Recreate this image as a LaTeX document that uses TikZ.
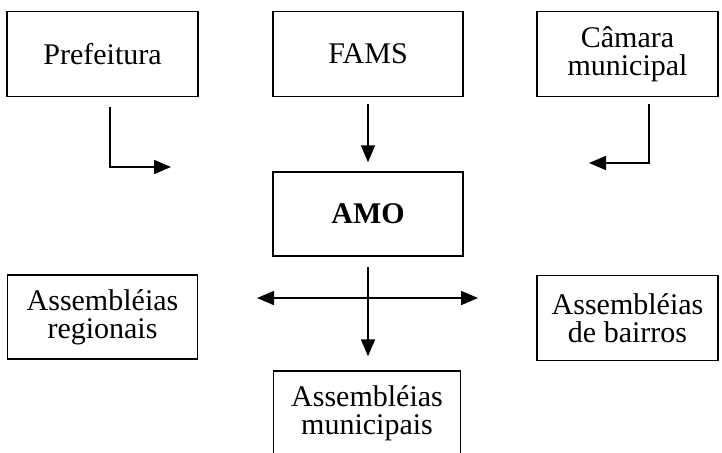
\documentclass[tikz,border=0pt]{standalone}
\usepackage{fontspec}
\setmainfont{Liberation Serif}
\usetikzlibrary{arrows.meta}
\tikzset{
  orgbox/.style={draw, line width=1.4pt, minimum height=85pt, align=center, inner sep=0pt},
  flow/.style={line width=1.8pt, -{Triangle[length=17pt,width=14pt]}},
  biflow/.style={line width=1.8pt, {Triangle[length=17pt,width=14pt]}-{Triangle[length=17pt,width=14pt]}},
}
\begin{document}
\begin{tikzpicture}[x=1pt,y=-1pt,font=\fontsize{30}{28}\selectfont]
      \useasboundingbox (0,0) rectangle (722,452);
      \node[orgbox, minimum width=191pt] (pref) at (102.5,54) {Prefeitura};
      \node[orgbox, minimum width=190pt] (fams) at (368,54) {FAMS};
      \node[orgbox, minimum width=181pt] (cam) at (627.5,54) {Câmara\\municipal};
      \node[orgbox, minimum width=190pt, minimum height=84pt] (amo) at (368,214) {\textbf{AMO}};
      \node[orgbox, minimum width=190pt, minimum height=84pt] (reg) at (102.5,317) {Assembléias\\regionais};
      \node[orgbox, minimum width=181pt, minimum height=85pt] (bairros) at (627.5,318) {Assembléias\\de bairros};
      \node[orgbox, minimum width=187pt, minimum height=84pt] (munic) at (367,413) {Assembléias\\municipais};
      \coordinate (prefend) at (171,167);
      \coordinate (camend) at (589,163);
      \coordinate (left) at (257,298);
      \coordinate (right) at (478,298);
      \begin{scope}
        \draw[flow] ([shift={(7.5,10)}]pref.south) |- (prefend);
        \draw[flow] ([yshift=-7pt]fams.south) -- ([yshift=9pt]amo.north);
        \draw[flow] ([shift={(21.5,7)}]cam.south) |- (camend);
        \draw[biflow] (left) -- (right);
        \draw[flow] ([yshift=-10pt]amo.south) -- ([yshift=14pt]munic.north -| amo.south);
      \end{scope}
    \end{tikzpicture}
\end{document}
